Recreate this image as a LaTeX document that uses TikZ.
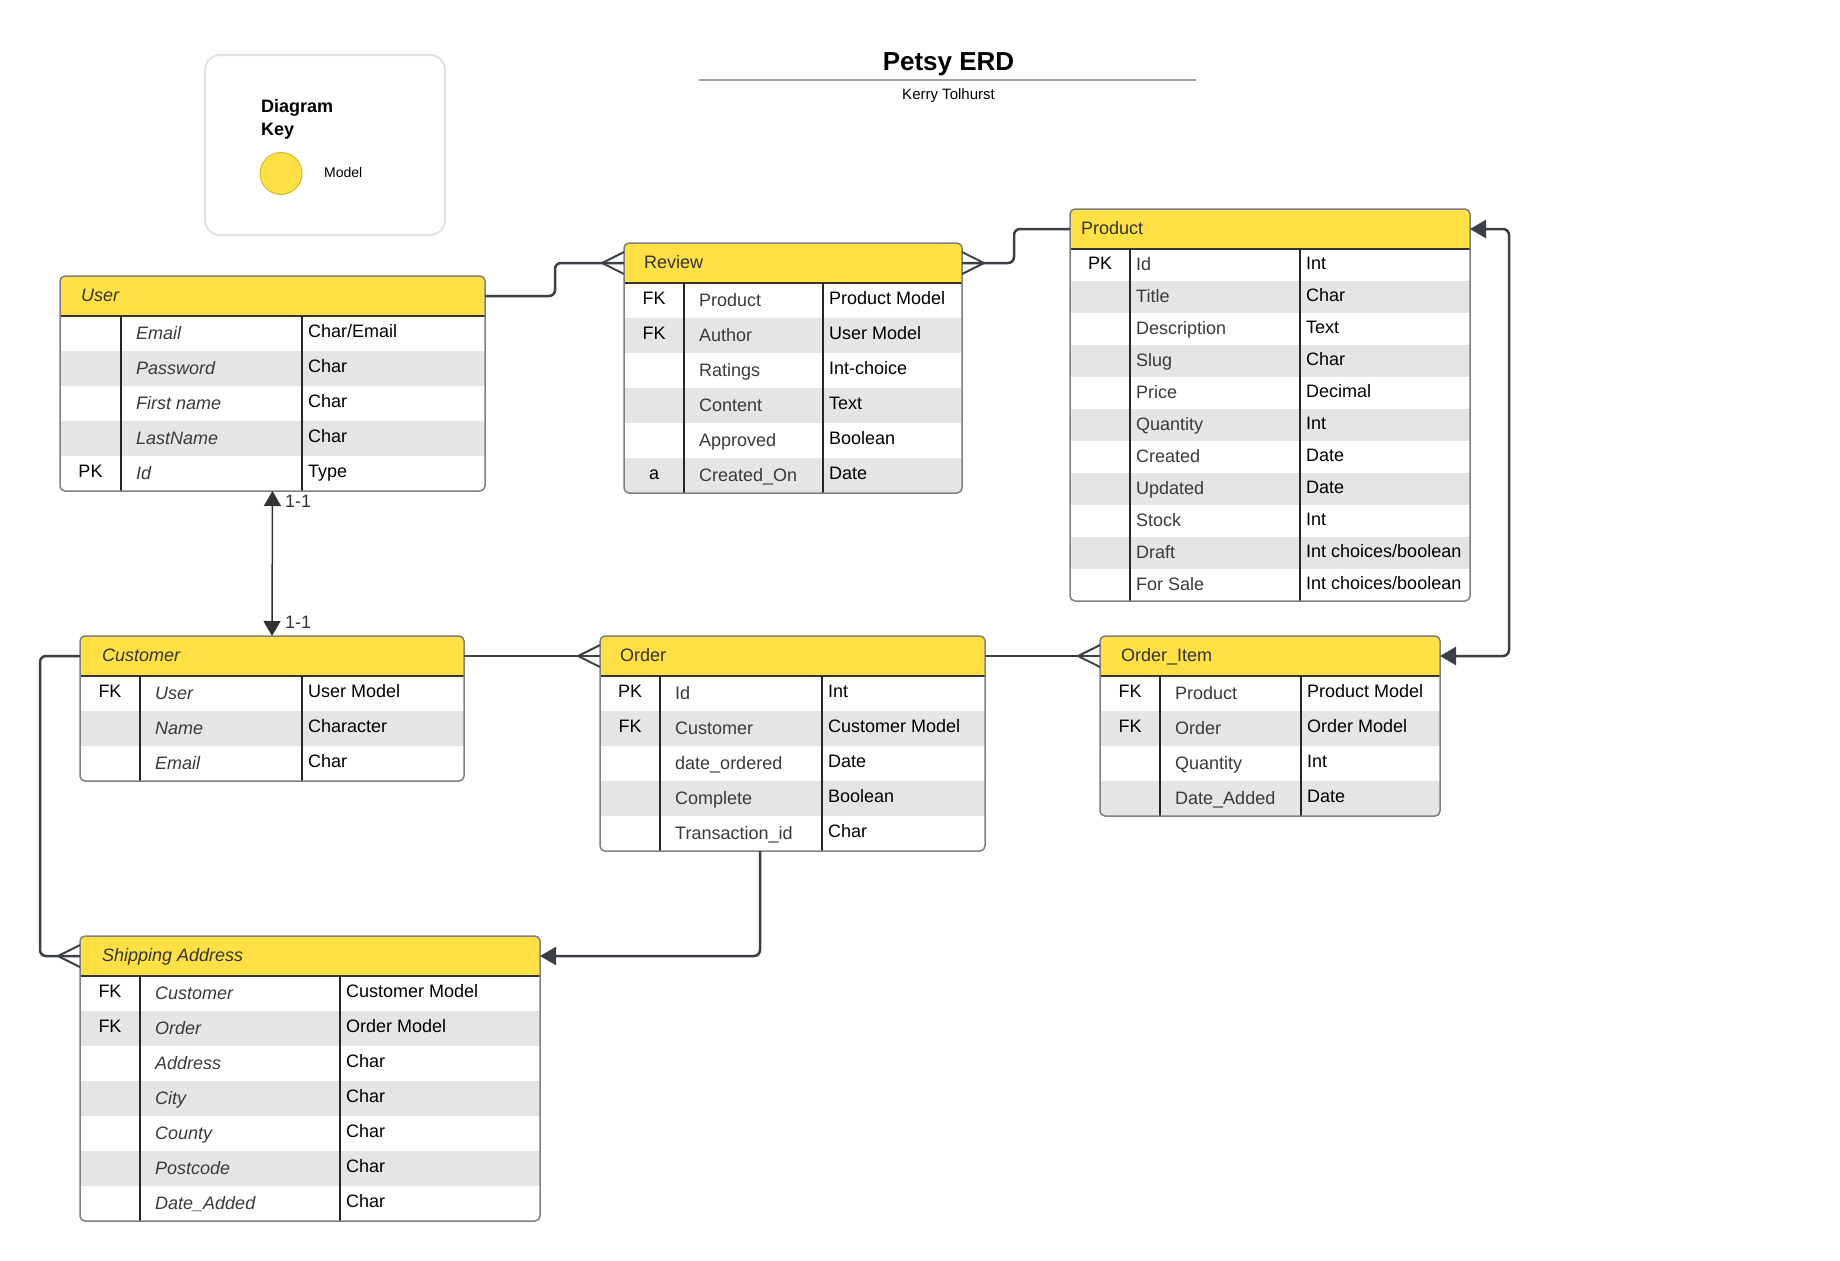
\documentclass[tikz,border=0pt]{standalone}
\usepackage{fontspec}
\setmainfont{Liberation Sans}
\usetikzlibrary{arrows.meta,calc}
\definecolor{hdr}{RGB}{255,225,70}
\definecolor{hdrdark}{RGB}{214,186,48}
\definecolor{rowg}{RGB}{229,229,229}
\definecolor{bord}{RGB}{128,128,128}
\definecolor{conncol}{RGB}{58,63,72}
\definecolor{fieldc}{RGB}{58,58,58}
\definecolor{keyborder}{RGB}{224,226,232}
\definecolor{titleline}{RGB}{160,163,172}
\tikzset{
  x=1pt, y=-1pt,
  txt/.style={inner sep=0, font=\fontsize{18}{21}\selectfont},
  keytxt/.style={txt, anchor=base, text=black},
  fieldtxt/.style={inner sep=0, anchor=base west, text=fieldc, font=\fontsize{18}{21}\selectfont\fieldsty},
  typetxt/.style={txt, anchor=base west, text=black},
  titletxt/.style={inner sep=0, anchor=base west, text=black!80, font=\fontsize{18}{21}\selectfont\titlesty},
  conn/.style={draw=conncol, line width=2.5, rounded corners=6},
  crow/.style={draw=conncol, line width=2},
  bigtip/.tip={Triangle[length=16pt,width=18pt]},
  smalltip/.tip={Triangle[length=15pt,width=17pt]},
}
\def\fieldsty{}
\def\titlesty{}
\def\fieldoff{15}
\newcommand\crowfoot[2]{\draw[crow] ($(#1)+(0,-11)$) -- ($(#1)+(#2,0)$) -- ($(#1)+(0,11)$);}
\def\erdtable#1#2#3{\erdtableA{#1}#2\relax{#3}}
\def\erdtableA#1#2,#3,#4,#5,#6,#7,#8\relax#9{%
  \pgfmathsetmacro\ybot{#6+40+#8*#7}%
  \pgfmathsetmacro\tw{#3-#2}%
  \pgfmathsetmacro\th{\ybot-#6}%
  \begin{scope}
    \clip[rounded corners=5] (#2,#6) rectangle (#3,\ybot);
    \fill[hdr] (#2,#6) rectangle (#3,#6+40);
    \foreach \rk/\rf/\rt [count=\i] in {#9} {
      \ifodd\i\relax\else
        \fill[rowg] (#2,{#6+40+(\i-1)*#7}) rectangle (#3,{#6+40+\i*#7});
      \fi
    }
  \end{scope}
  \node[minimum width=\tw pt, minimum height=40pt, inner sep=0, outer sep=0] (#1) at ({(#2+#3)/2},#6+20) {};
  \node[minimum width=\tw pt, minimum height=\th pt, inner sep=0, outer sep=0] (#1-box) at ({(#2+#3)/2},{(#6+\ybot)/2}) {};
  \draw[line width=1.5, draw=black!80] (#2,#6+40) -- (#3,#6+40);
  \draw[line width=1.2, draw=black!85] (#4,#6+40) -- (#4,\ybot) (#5,#6+40) -- (#5,\ybot);
  \draw[line width=1.5, draw=bord, rounded corners=5] (#2,#6) rectangle (#3,\ybot);
  \foreach \rk/\rf/\rt [count=\i] in {#9} {
    \pgfmathsetmacro\yc{#6+40+(\i-0.5)*#7}
    \node[keytxt] (#1-k\i) at ({(#2+#4)/2},\yc+4) {\rk};
    \node[fieldtxt] (#1-f\i) at (#4+\fieldoff,\yc+5.5) {\rf};
    \node[typetxt] (#1-t\i) at (#5+6,\yc+4) {\rt};
  }
}
\begin{document}
\begin{tikzpicture}
\useasboundingbox (0,0) rectangle (1840,1261);
\fill[white] (0,0) rectangle (1840,1261);

% Title
\node[inner sep=0, anchor=base, font=\fontsize{26}{30}\selectfont\bfseries] (title) at (948.5,70) {Petsy ERD};
\draw[line width=2, draw=titleline] (699,80) -- (1196,80);
\node[inner sep=0, anchor=base, font=\fontsize{15}{18}\selectfont] (author) at (948.5,99.5) {Kerry Tolhurst};

% Key
\node[draw=keyborder, line width=2, rounded corners=15, minimum width=240pt, minimum height=180pt, inner sep=0] (keybox) at (325,145) {};
\node[inner sep=0, anchor=base west, font=\fontsize{18}{21}\selectfont\bfseries] (keyt1) at (261,112) {Diagram};
\node[inner sep=0, anchor=base west, font=\fontsize{18}{21}\selectfont\bfseries] (keyt2) at (261,135) {Key};
\node[circle, fill=hdr, draw=hdrdark, line width=1, minimum size=42pt, inner sep=0] (keycircle) at (281,173.5) {};
\node[inner sep=0, anchor=base west, font=\fontsize{14}{17}\selectfont] (keymodel) at (324,177) {Model};

% Tables
\def\fieldsty{\itshape}\def\fieldoff{15}
\erdtable{user}{60,485,121,302,276,35,5}{/Email/{Char/Email}, /Password/Char, /First name/Char, /LastName/Char, PK/Id/Type}
\node[titletxt, font=\fontsize{18}{21}\selectfont\itshape] (user-title) at (81,301) {User};

\def\fieldsty{}\def\fieldoff{15}
\erdtable{review}{624,962,684,823,243,35,6}{FK/Product/Product Model, FK/Author/User Model, /Ratings/Int-choice, /Content/Text, /Approved/Boolean, a/Created\_On/Date}
\node[titletxt] (review-title) at (644,268) {Review};

\def\fieldsty{}\def\fieldoff{6}
\erdtable{product}{1070,1470,1130,1300,209,32,11}{PK/Id/Int, /Title/Char, /Description/Text, /Slug/Char, /Price/Decimal, /Quantity/Int, /Created/Date, /Updated/Date, /Stock/Int, /Draft/{Int choices/boolean}, /For Sale/{Int choices/boolean}}
\node[titletxt] (product-title) at (1081,234) {Product};

\def\fieldsty{\itshape}\def\fieldoff{15}
\erdtable{customer}{80,464,140,302,636,35,3}{FK/User/User Model, /Name/Character, /Email/Char}
\node[titletxt, font=\fontsize{18}{21}\selectfont\itshape] (customer-title) at (102,661) {Customer};

\def\fieldsty{}\def\fieldoff{15}
\erdtable{order}{600,985,660,822,636,35,5}{PK/Id/Int, FK/Customer/Customer Model, /date\_ordered/Date, /Complete/Boolean, /Transaction\_id/Char}
\node[titletxt] (order-title) at (620,661) {Order};

\erdtable{orderitem}{1100,1440,1160,1301,636,35,4}{FK/Product/Product Model, FK/Order/Order Model, /Quantity/Int, /Date\_Added/Date}
\node[titletxt] (orderitem-title) at (1121,661) {Order\_Item};

\def\fieldsty{\itshape}\def\fieldoff{15}
\erdtable{shipping}{80,540,140,340,936,35,7}{FK/Customer/Customer Model, FK/Order/Order Model, /Address/Char, /City/Char, /County/Char, /Postcode/Char, /Date\_Added/Char}
\node[titletxt, font=\fontsize{18}{21}\selectfont\itshape] (shipping-title) at (102,961) {Shipping Address};

% Connectors
\draw[conn] (user.east) -- ++(70,0) |- (review.west);
\crowfoot{review.west}{-22}
\draw[conn] (review.east) -- ++(52,0) |- (product.west);
\crowfoot{review.east}{22}
\draw[conn] (customer.east) -- (order.west);
\crowfoot{order.west}{-22}
\draw[conn] (order.east) -- (orderitem.west);
\crowfoot{orderitem.west}{-22}
\draw[conn, bigtip-bigtip] (product.east) -- ++(39,0) |- (orderitem.east);
\draw[conn] (customer.west) -- ++(-40,0) |- (shipping.west);
\crowfoot{shipping.west}{-22}
\draw[conn, -bigtip] ($(order-box.south west)!0.4156!(order-box.south east)$) |- (shipping.east);
\draw[line width=1.5, draw=black!80, smalltip-smalltip] (user-box.south) -- (customer-box.north);
\node[inner sep=0, anchor=base west, text=black!80, font=\fontsize{18}{21}\selectfont] (lbl-top) at (285,507) {1-1};
\node[inner sep=0, anchor=base west, text=black!80, font=\fontsize{18}{21}\selectfont] (lbl-bot) at (285,628) {1-1};
\end{tikzpicture}
\end{document}
